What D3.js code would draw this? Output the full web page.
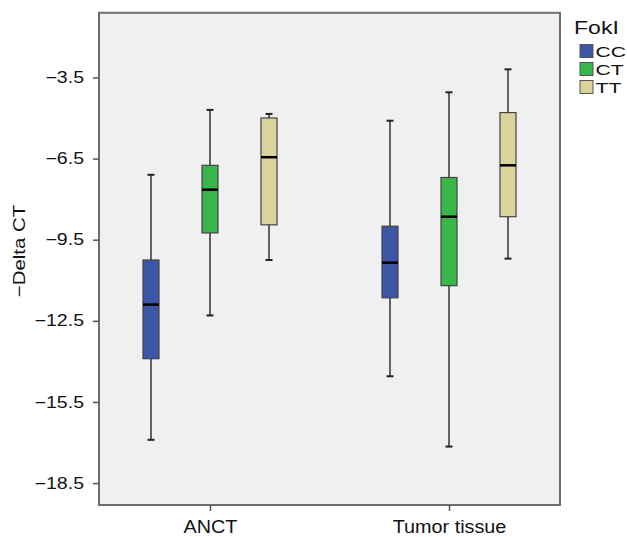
<!DOCTYPE html>
<html>
<head>
<meta charset="utf-8">
<script src="https://cdn.jsdelivr.net/npm/d3@7"></script>
<style>
    body { margin: 0; background: #fff; }
    svg text { font-family: "Liberation Sans", Arial, sans-serif; fill: #111; }
</style>
</head>
<body>
<div id="chart"></div>
<script>
// tissue groups and genotypes
const tissues = ["ANCT", "Tumor tissue"];
const genotypes = ["CC", "CT", "TT"];
const colors = ["#3d57a8", "#3ab54a", "#d9d49c"];

// box stats: [whiskerLow, q1, median, q3, whiskerHigh]
const anctStats = [
    [-16.9, -13.9, -11.9, -10.25, -7.1],
    [-12.3, -9.25, -7.65, -6.75, -4.7],
    [-10.25, -8.95, -6.45, -5.0, -4.85]
];
const tumorStats = [
    [-14.55, -11.65, -10.35, -9.0, -5.1],
    [-17.15, -11.2, -8.65, -7.2, -4.05],
    [-10.2, -8.65, -6.75, -4.8, -3.2]
];
const yTicks = [-3.5, -6.5, -9.5, -12.5, -15.5, -18.5];

const width = 627, height = 537;
const plot = { left: 99, right: 560, top: 12.8, bottom: 505 };

const svg = d3.select("#chart").append("svg")
    .attr("width", width)
    .attr("height", height);

// the source picture has wide lettering, stretch text a bit along its run
function widen(sel, k) {
    sel.each(function () {
        const len = this.getComputedTextLength();
        d3.select(this)
            .attr("textLength", len * k)
            .attr("lengthAdjust", "spacingAndGlyphs");
    });
}

// scales
const y = d3.scaleLinear()
    .domain([-19.31, -1.11])
    .range([plot.bottom, plot.top]);

const x = d3.scalePoint()
    .domain(tissues)
    .range([plot.left, plot.right])
    .padding(0.4644);

const inner = d3.scalePoint()
    .domain(genotypes)
    .range([-59, 59]);

const color = d3.scaleOrdinal().domain(genotypes).range(colors);

// background panel
svg.append("rect")
    .attr("x", plot.left)
    .attr("y", plot.top)
    .attr("width", plot.right - plot.left)
    .attr("height", plot.bottom - plot.top)
    .attr("fill", "#f0f0f0")
    .attr("stroke", "#6e6e6e")
    .attr("stroke-width", 2);

// axes
const yAxis = svg.append("g")
    .attr("transform", `translate(${plot.left},0)`)
    .call(d3.axisLeft(y).tickValues(yTicks).tickSize(6).tickSizeOuter(0).tickPadding(9)
        .tickFormat(d => d3.format(".1f")(d).replace("-", "\u2212")));
yAxis.select(".domain").remove();
yAxis.selectAll(".tick line").attr("stroke", "#555").attr("stroke-width", 1.5);
yAxis.selectAll(".tick text")
    .style("font-size", "16px")
    .attr("fill", "#111")
    .call(widen, 1.22);

const xAxis = svg.append("g")
    .attr("transform", `translate(0,${plot.bottom})`)
    .call(d3.axisBottom(x).tickSize(6).tickSizeOuter(0).tickPadding(9));
xAxis.select(".domain").remove();
xAxis.selectAll(".tick line").attr("stroke", "#555").attr("stroke-width", 1.5);
xAxis.selectAll(".tick text")
    .style("font-size", "18px")
    .attr("fill", "#111")
    .call(widen, 1.1);

svg.append("text")
    .attr("transform", "translate(25,251) rotate(-90)")
    .attr("text-anchor", "middle")
    .style("font-size", "17px")
    .text("\u2212Delta CT")
    .call(widen, 1.2);

// boxes
const boxes = [];
[anctStats, tumorStats].forEach((stats, i) => {
    stats.forEach((s, j) => {
        boxes.push({ tissue: tissues[i], genotype: genotypes[j], s: s });
    });
});

const boxW = 16, capW = 7;

const g = svg.append("g")
    .selectAll("g")
    .data(boxes)
    .join("g")
    .attr("transform", d => `translate(${x(d.tissue) + inner(d.genotype)},0)`);

g.append("line")
    .attr("y1", d => y(d.s[0]))
    .attr("y2", d => y(d.s[4]))
    .attr("stroke", "#333")
    .attr("stroke-width", 1.5);

g.selectAll(".cap")
    .data(d => [d.s[0], d.s[4]])
    .join("line")
    .attr("class", "cap")
    .attr("x1", -capW / 2)
    .attr("x2", capW / 2)
    .attr("y1", v => y(v))
    .attr("y2", v => y(v))
    .attr("stroke", "#222")
    .attr("stroke-width", 2);

g.append("rect")
    .attr("x", -boxW / 2)
    .attr("width", boxW)
    .attr("y", d => y(d.s[3]))
    .attr("height", d => y(d.s[1]) - y(d.s[3]))
    .attr("fill", d => color(d.genotype))
    .attr("stroke", "#444")
    .attr("stroke-width", 1.2);

g.append("line")
    .attr("x1", -boxW / 2)
    .attr("x2", boxW / 2)
    .attr("y1", d => y(d.s[2]))
    .attr("y2", d => y(d.s[2]))
    .attr("stroke", "#000")
    .attr("stroke-width", 2.5);

// legend
const legend = svg.append("g").attr("transform", "translate(574,0)");
legend.append("text")
    .attr("x", 0)
    .attr("y", 33.5)
    .style("font-size", "18px")
    .text("FokI")
    .call(widen, 1.28);

const item = legend.selectAll(".item")
    .data(genotypes)
    .join("g")
    .attr("class", "item")
    .attr("transform", (d, i) => `translate(6,${44.5 + i * 18})`);

item.append("rect")
    .attr("width", 13)
    .attr("height", 13)
    .attr("fill", d => color(d))
    .attr("stroke", "#555")
    .attr("stroke-width", 1);

item.append("text")
    .attr("x", 15.5)
    .attr("y", 12.5)
    .style("font-size", "15.5px")
    .text(d => d)
    .call(widen, 1.36);
</script>
</body>
</html>
